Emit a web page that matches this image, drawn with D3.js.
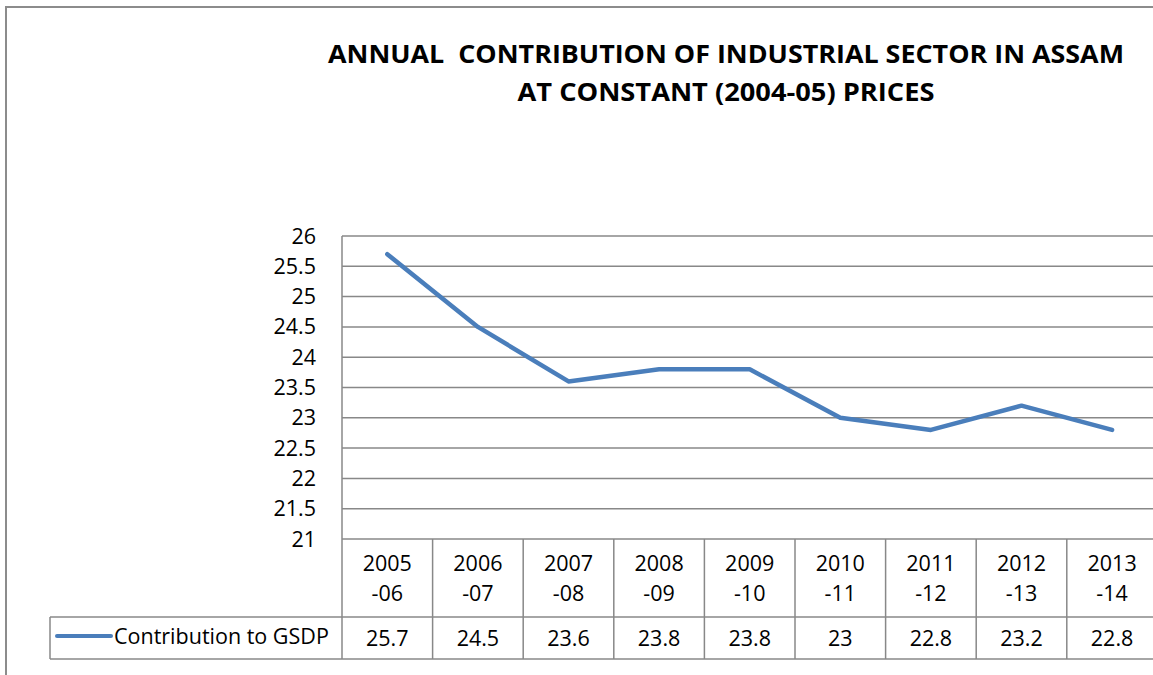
<html>
<head>
  <title>industrial sector assam</title>
</head>
<style>
  body {
    padding: 0em;
    margin: 0em;
    background: #fff;
  }
</style>
<body>
  <div id="chart"></div>
</body>
<script src="https://cdn.jsdelivr.net/npm/d3@7"></script>
<script>
  // data
  const years = ["2005-06", "2006-07", "2007-08", "2008-09", "2009-10", "2010-11", "2011-12", "2012-13", "2013-14"]
  const gsdp = [25.7, 24.5, 23.6, 23.8, 23.8, 23, 22.8, 23.2, 22.8]
  const yTicks = [21, 21.5, 22, 22.5, 23, 23.5, 24, 24.5, 25, 25.5, 26]
  const seriesName = "Contribution to GSDP"
  const titleLines = ["ANNUAL  CONTRIBUTION OF INDUSTRIAL SECTOR IN ASSAM", "AT CONSTANT (2004-05) PRICES"]

  const width = 1153
  const height = 675
  const font = "'Open Sans', Lato, sans-serif"
  const gridCol = "#888"
  const lineCol = "#4a7ebb"
  const fs = 21.5

  const svg = d3.select("#chart").append("svg")
    .attr("width", width)
    .attr("height", height)
    .style("font-family", font)

  // outer chart border
  svg.append("path")
    .attr("d", `M6,${height + 5}V7H${width + 5}`)
    .attr("fill", "none")
    .attr("stroke", "#8c8c8c")
    .attr("stroke-width", 2)

  // title
  svg.append("text")
    .attr("x", 726).attr("y", 63)
    .attr("text-anchor", "middle")
    .attr("font-weight", "bold")
    .attr("font-size", 25)
    .attr("xml:space", "preserve")
    .attr("textLength", 796)
    .attr("lengthAdjust", "spacingAndGlyphs")
    .text(titleLines[0])
  svg.append("text")
    .attr("x", 726).attr("y", 101)
    .attr("text-anchor", "middle")
    .attr("font-weight", "bold")
    .attr("font-size", 25)
    .attr("textLength", 417)
    .attr("lengthAdjust", "spacingAndGlyphs")
    .text(titleLines[1])

  const plotL = 342, plotT = 236, plotB = 539
  const cellW = 90.6
  const plotR = plotL + cellW * years.length

  const x = d3.scaleBand().domain(years).range([plotL, plotR])
  const y = d3.scaleLinear().domain([21, 26]).range([plotB, plotT])

  // gridlines
  svg.append("g").selectAll("line").data(yTicks).join("line")
    .attr("x1", plotL).attr("x2", plotR)
    .attr("y1", d => y(d)).attr("y2", d => y(d))
    .attr("stroke", gridCol).attr("stroke-width", 1.5)

  // y axis labels
  svg.append("g").selectAll("text").data(yTicks).join("text")
    .attr("x", 316).attr("y", d => y(d))
    .attr("dy", "0.35em")
    .attr("text-anchor", "end")
    .attr("font-size", fs)
    .text(d => d)

  // data table lines
  const t1 = 617, t2 = 659, legL = 50
  const g = svg.append("g").attr("stroke", gridCol).attr("stroke-width", 1.5)
  g.append("line").attr("x1", plotL).attr("x2", plotL).attr("y1", plotT).attr("y2", t2)
  g.selectAll(".v").data(years.slice(1)).join("line")
    .attr("x1", d => x(d)).attr("x2", d => x(d))
    .attr("y1", plotB).attr("y2", t2)
  g.append("line").attr("x1", legL).attr("x2", plotR).attr("y1", t1).attr("y2", t1)
  g.append("line").attr("x1", legL).attr("x2", plotR).attr("y1", t2).attr("y2", t2)
  g.append("line").attr("x1", legL).attr("x2", legL).attr("y1", t1).attr("y2", t2)

  // category labels (two lines)
  const cat = svg.append("g").selectAll("text").data(years).join("text")
    .attr("text-anchor", "middle")
    .attr("font-size", fs)
  cat.append("tspan")
    .attr("x", d => x(d) + x.bandwidth() / 2).attr("y", 571)
    .text(d => d.split("-")[0])
  cat.append("tspan")
    .attr("x", d => x(d) + x.bandwidth() / 2).attr("y", 601)
    .text(d => "-" + d.split("-")[1])

  // values row
  svg.append("g").selectAll("text").data(gsdp).join("text")
    .attr("x", (d, i) => x(years[i]) + x.bandwidth() / 2)
    .attr("y", 646)
    .attr("text-anchor", "middle")
    .attr("font-size", fs)
    .text(d => d)

  // legend key
  svg.append("line")
    .attr("x1", 57).attr("x2", 111).attr("y1", 636).attr("y2", 636)
    .attr("stroke", lineCol).attr("stroke-width", 4).attr("stroke-linecap", "round")
  svg.append("text")
    .attr("x", 114).attr("y", 644)
    .attr("font-size", fs)
    .text(seriesName)

  // the line
  const line = d3.line()
    .x((d, i) => x(years[i]) + x.bandwidth() / 2)
    .y(d => y(d))
  svg.append("path")
    .datum(gsdp)
    .attr("d", line)
    .attr("fill", "none")
    .attr("stroke", lineCol)
    .attr("stroke-width", 4.5)
    .attr("stroke-linecap", "round")
    .attr("stroke-linejoin", "round")
</script>
</html>
